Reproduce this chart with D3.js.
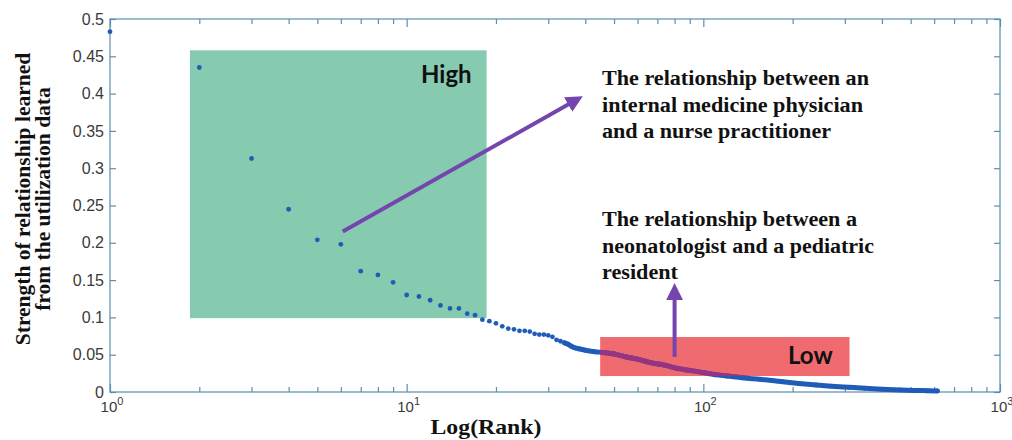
<!DOCTYPE html>
<html>
<head>
<meta charset="utf-8">
<script src="https://cdn.jsdelivr.net/npm/d3@7"></script>
<style>
  body { margin: 0; background: #fff; }
  svg { display: block; }
</style>
</head>
<body>
<svg id="chart"></svg>
<script>
// ranks of the learned relationships and their strength
var ranks = [1, 2, 3, 4, 5, 6, 7, 8, 9, 10,
  11, 12, 13, 14, 15, 16, 17, 18, 19, 20,
  21, 22, 23, 24, 25, 26, 27, 28, 29, 30,
  31, 32, 33, 34, 35, 36, 37, 38, 39, 40,
  43, 46, 50, 55, 60, 67, 74, 81, 90, 100,
  110, 120, 135, 155, 170, 185, 210, 240, 270, 310,
  350, 400, 460, 520, 570, 615];
var strength = [0.483, 0.435, 0.313, 0.245, 0.204, 0.198, 0.162, 0.157, 0.147, 0.130,
  0.128, 0.123, 0.116, 0.112, 0.112, 0.105, 0.103, 0.097, 0.095, 0.092,
  0.088, 0.085, 0.084, 0.082, 0.082, 0.081, 0.078, 0.077, 0.077, 0.076,
  0.074, 0.070, 0.068, 0.066, 0.064, 0.061, 0.059, 0.058, 0.057, 0.056,
  0.054, 0.053, 0.051, 0.047, 0.044, 0.039, 0.036, 0.032, 0.029, 0.026,
  0.023, 0.0214, 0.019, 0.017, 0.0155, 0.0138, 0.0115, 0.0094, 0.0078, 0.0063,
  0.005, 0.0038, 0.0028, 0.0021, 0.0017, 0.0014];

var yTicks = [0, 0.05, 0.1, 0.15, 0.2, 0.25, 0.3, 0.35, 0.4, 0.45, 0.5];
var yTickLabels = ["0", "0.05", "0.1", "0.15", "0.2", "0.25", "0.3", "0.35", "0.4", "0.45", "0.5"];
var xDecades = [1, 10, 100, 1000];
var xDecadeExp = ["0", "1", "2", "3"];
var xMinor = [2, 3, 4, 5, 6, 7, 8, 9, 20, 30, 40, 50, 60, 70, 80, 90, 200, 300, 400, 500, 600, 700, 800, 900];

var yTitle = ["Strength of relationship learned", "from the utilization data"];
var xTitle = "Log(Rank)";
var noteHigh = ["The relationship between an", "internal medicine physician", "and a nurse practitioner"];
var noteLow = ["The relationship between a", "neonatologist and a pediatric", "resident"];

var W = 1012, H = 440;
var svg = d3.select("#chart").attr("width", W).attr("height", H);

var x = d3.scaleLog().domain([1, 1000]).range([110, 1000]);
var y = d3.scaleLinear().domain([0, 0.5]).range([392, 19]);

var pts = ranks.map(function(r, i) { return { r: r, v: strength[i] }; });

var frameCol = "#5b8fae", dotCol = "#1f5cb8", purple = "#7446ad";
var serif = "'Liberation Serif', 'Times New Roman', serif";

// highlight boxes (in data units)
var hiBox = [1.86, 18.6, 0.099, 0.458];
var loBox = [44.9, 311, 0.0214, 0.0737];

svg.append("rect")
  .attr("x", x(hiBox[0])).attr("y", y(hiBox[3]))
  .attr("width", x(hiBox[1]) - x(hiBox[0]))
  .attr("height", y(hiBox[2]) - y(hiBox[3]))
  .attr("fill", "#86cbb0");

svg.append("rect")
  .attr("x", x(loBox[0])).attr("y", y(loBox[3]))
  .attr("width", x(loBox[1]) - x(loBox[0]))
  .attr("height", y(loBox[2]) - y(loBox[3]))
  .attr("fill", "#f06b6f");

// frame + ticks (matlab style, ticks inside on all sides)
svg.append("rect")
  .attr("x", 110).attr("y", 19).attr("width", 890).attr("height", 373)
  .attr("fill", "none").attr("stroke", frameCol).attr("stroke-width", 1.2);

function styleAxis(g) {
  g.select(".domain").remove();
  g.selectAll(".tick line").attr("stroke", frameCol).attr("stroke-width", 1.2);
}

svg.append("g").attr("transform", "translate(110,0)")
  .call(d3.axisLeft(y).tickValues(yTicks).tickSize(-6).tickPadding(6)
    .tickFormat(function(d, i) { return yTickLabels[i]; }))
  .call(styleAxis)
  .selectAll("text")
  .attr("font-family", "'Liberation Sans', Arial, sans-serif")
  .attr("font-size", 16).attr("fill", "#3a3a3a");

svg.append("g").attr("transform", "translate(1000,0)")
  .call(d3.axisRight(y).tickValues(yTicks).tickSize(-6).tickFormat(""))
  .call(styleAxis);

[[392, d3.axisBottom], [19, d3.axisTop]].forEach(function(a) {
  svg.append("g").attr("transform", "translate(0," + a[0] + ")")
    .call(a[1](x).tickValues(xMinor).tickSize(-5).tickFormat(""))
    .call(styleAxis);
  svg.append("g").attr("transform", "translate(0," + a[0] + ")")
    .call(a[1](x).tickValues(xDecades).tickSize(-8).tickFormat(""))
    .call(styleAxis);
});

var xl = svg.append("g").selectAll("text").data(xDecades).enter().append("text")
  .attr("x", function(d) { return x(d) + 2; })
  .attr("y", 412)
  .attr("text-anchor", "middle")
  .attr("font-family", "'Liberation Sans', Arial, sans-serif")
  .attr("font-size", 15).attr("fill", "#3a3a3a");
xl.append("tspan").text("10");
xl.append("tspan").attr("dy", -7).attr("font-size", 11)
  .text(function(d, i) { return xDecadeExp[i]; });

// data: dots for each rank, dense tail drawn as a thick band
var tail = pts.filter(function(d) { return d.r >= 34; });
var line = d3.line()
  .x(function(d) { return x(d.r); })
  .y(function(d) { return y(d.v); })
  .curve(d3.curveMonotoneX);

function drawSeries(g, col) {
  g.append("path").datum(tail).attr("d", line)
    .attr("fill", "none").attr("stroke", col)
    .attr("stroke-width", 5).attr("stroke-linecap", "round");
  g.selectAll("circle").data(pts).enter().append("circle")
    .attr("cx", function(d) { return x(d.r); })
    .attr("cy", function(d) { return y(d.v); })
    .attr("r", 2.4).attr("fill", col);
}
drawSeries(svg.append("g"), dotCol);

svg.append("clipPath").attr("id", "loclip").append("rect")
  .attr("x", x(loBox[0])).attr("y", y(loBox[3]))
  .attr("width", x(loBox[1]) - x(loBox[0]))
  .attr("height", y(loBox[2]) - y(loBox[3]));
drawSeries(svg.append("g").attr("clip-path", "url(#loclip)"), "#98347f");

// arrows
var defs = svg.append("defs");
defs.append("marker").attr("id", "head")
  .attr("viewBox", "0 0 10 10").attr("refX", 6).attr("refY", 5)
  .attr("markerWidth", 4.2).attr("markerHeight", 4.2)
  .attr("markerUnits", "strokeWidth").attr("orient", "auto")
  .append("path").attr("d", "M0,0 L10,5 L0,10 z").attr("fill", purple);

var arrows = [
  { r0: 6.09, v0: 0.215, r1: 37.5, v1: 0.392 },
  { r0: 80, v0: 0.047, r1: 80, v1: 0.137 }
];
svg.selectAll("line.arrow").data(arrows).enter().append("line")
  .attr("class", "arrow")
  .attr("x1", function(d) { return x(d.r0); })
  .attr("y1", function(d) { return y(d.v0); })
  .attr("x2", function(d) { return x(d.r1); })
  .attr("y2", function(d) { return y(d.v1); })
  .attr("stroke", purple).attr("stroke-width", 4)
  .attr("marker-end", "url(#head)");

// labels
svg.append("text").attr("x", 421).attr("y", 83)
  .attr("font-family", "Lato, 'Open Sans', sans-serif").attr("font-weight", "bold")
  .attr("font-size", 24).attr("fill", "#111").text("High");
svg.append("text").attr("x", 788).attr("y", 364)
  .attr("font-family", "Lato, 'Open Sans', sans-serif").attr("font-weight", "bold")
  .attr("font-size", 24).attr("fill", "#111").text("Low");

function note(lines, widths, x0, y0) {
  svg.append("g").selectAll("text").data(lines).enter().append("text")
    .attr("x", x0).attr("y", function(d, i) { return y0 + i * 26.5; })
    .attr("font-family", serif)
    .attr("font-weight", "bold").attr("font-size", 20).attr("fill", "#111")
    .attr("textLength", function(d, i) { return widths[i]; })
    .attr("lengthAdjust", "spacingAndGlyphs")
    .text(function(d) { return d; });
}
note(noteHigh, [267, 261, 229], 602, 85);
note(noteLow, [255, 272, 76], 602, 226);

svg.append("g").selectAll("text").data(yTitle).enter().append("text")
  .attr("transform", function(d, i) { return "translate(" + (30 + i * 20) + ",199) rotate(-90)"; })
  .attr("text-anchor", "middle")
  .attr("font-family", serif)
  .attr("font-weight", "bold").attr("font-size", 21.5).attr("fill", "#111")
  .text(function(d) { return d; });

svg.append("text").attr("x", 486).attr("y", 434).attr("text-anchor", "middle")
  .attr("font-family", serif)
  .attr("font-weight", "bold").attr("font-size", 21).attr("fill", "#111")
  .attr("textLength", 111).attr("lengthAdjust", "spacingAndGlyphs")
  .text(xTitle);
</script>
</body>
</html>
